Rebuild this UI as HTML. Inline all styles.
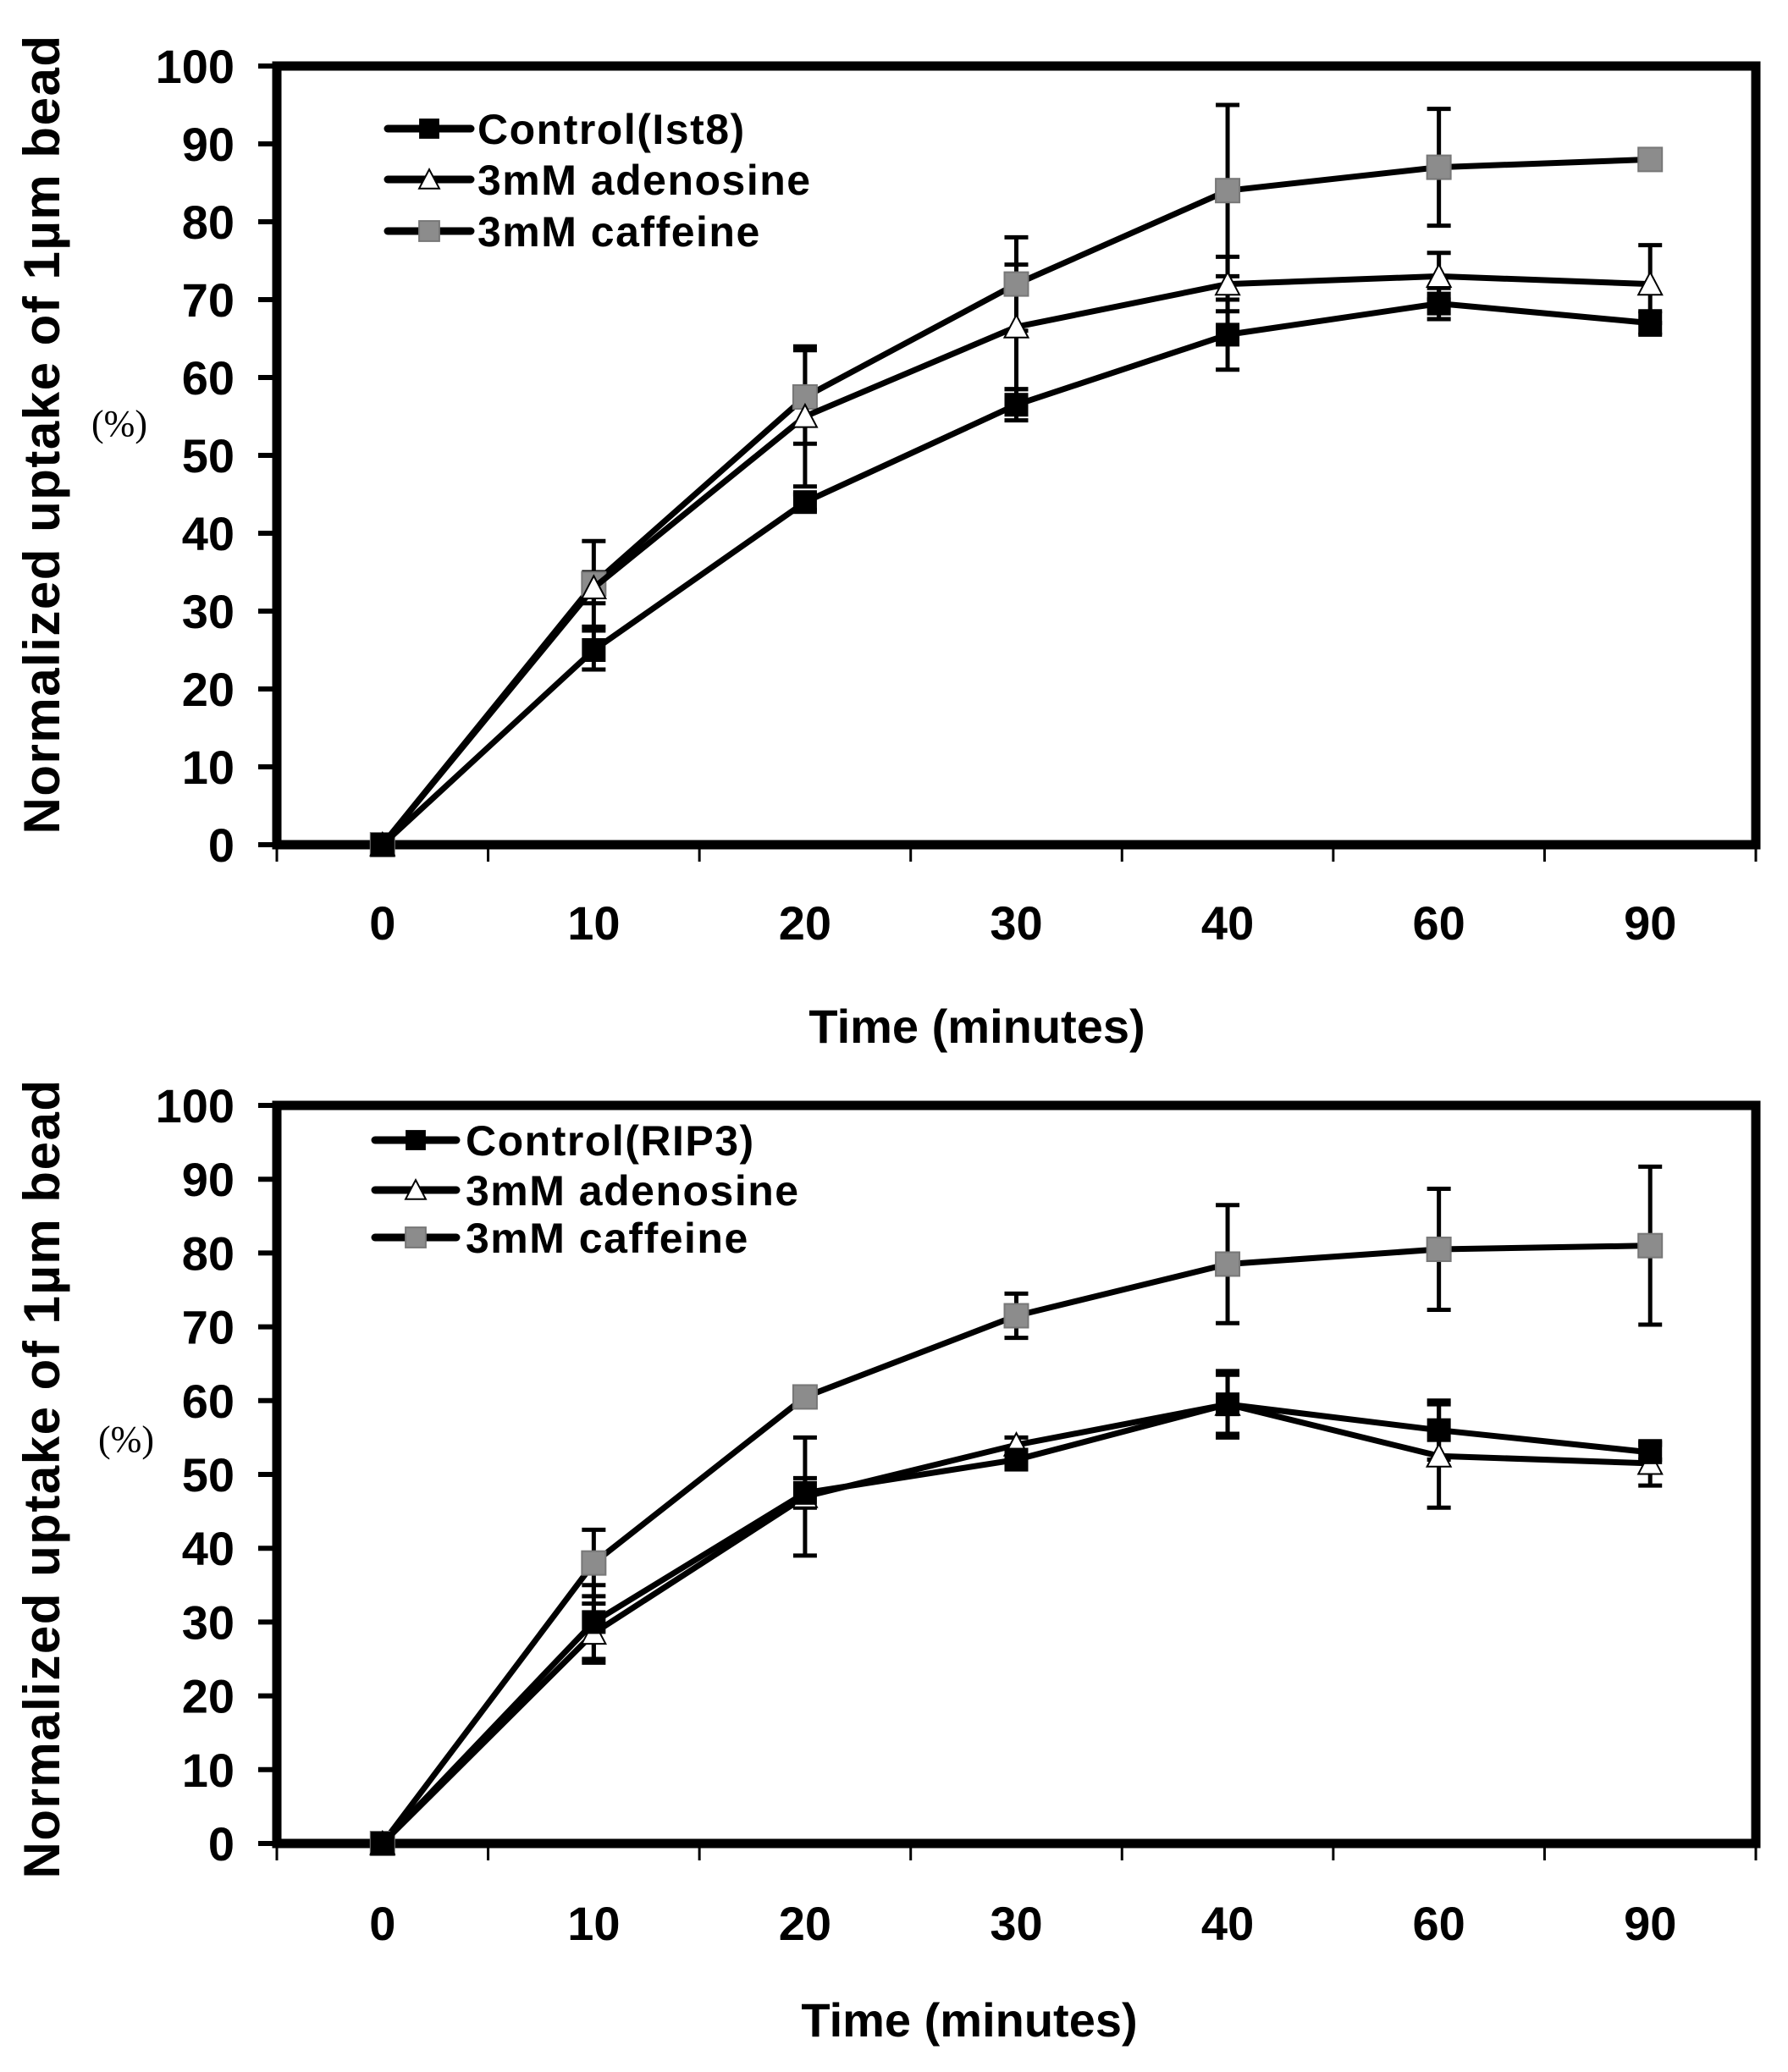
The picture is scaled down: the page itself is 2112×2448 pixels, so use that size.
<!DOCTYPE html>
<html><head><meta charset="utf-8"><style>
html,body{margin:0;padding:0;background:#fff;}
svg{display:block;}
text{font-family:"Liberation Sans",Arial,sans-serif;font-weight:bold;fill:#000;}
</style></head><body>
<svg id="chart" width="2112" height="2448" viewBox="0 0 2112 2448" xmlns="http://www.w3.org/2000/svg"></svg>
<script>
const categories = ["0","10","20","30","40","60","90"];
const yTicks = [0,10,20,30,40,50,60,70,80,90,100];
const seriesNames = ["control","adenosine","caffeine"];
const topLabels = ["Control(Ist8)","3mM adenosine","3mM caffeine"];
const botLabels = ["Control(RIP3)","3mM adenosine","3mM caffeine"];
const topControl = [0,25,44,56.5,65.5,69.5,67];
const topControlErr = [0,2.5,1,2,4.5,2,1.5];
const topAdenosine = [0,33,55,66.5,72,73,72];
const topAdenosineErr = [0,2,9,8,3.5,3,5];
const topCaffeine = [0,33.5,57.5,72,84,87,88];
const topCaffeineErr = [0,5.5,6,6,11,7.5,0];
const botControl = [0,30,47.5,52,59.5,56,53];
const botControlErr = [0,5,2,1,4,4,1];
const botAdenosine = [0,28.5,47,54,59.5,52.5,51.5];
const botAdenosineErr = [0,4,8,1,4.5,7,3];
const botCaffeine = [0,38,60.5,71.5,78.5,80.5,81];
const botCaffeineErr = [0,4.5,1,3,8,8.2,10.7];

const NS="http://www.w3.org/2000/svg";
const svg=document.getElementById('chart');
function mk(tag,attrs,parent){const e=document.createElementNS(NS,tag);for(const k in attrs)e.setAttribute(k,attrs[k]);(parent||svg).appendChild(e);return e;}

function drawPanel(p){
  const g=mk('g',{});
  
  
  const L=327,R=2074,T=p.top,B=p.bottom;
  const step=(R-L)/7;
  const xs=i=>L+step*(i+0.5);
  const ys=v=>B-(B-T)*v/100;
  yTicks.forEach(v=>{
    const t=mk('line',{x1:L-22,x2:L,y1:ys(v),y2:ys(v),stroke:'#000','stroke-width':6},g);
    
    
    const lb=mk('text',{x:277,y:ys(v)+20,'font-size':56,'text-anchor':'end'},g);
    lb.textContent=v;
    
    
  });
  for(let i=0;i<=7;i++){
    const t=mk('line',{x1:L+step*i,x2:L+step*i,y1:B,y2:B+20,stroke:'#000','stroke-width':3},g);
    
    
  }
  categories.forEach((c,i)=>{
    const lb=mk('text',{x:xs(i),y:p.xlabY,'font-size':56,'text-anchor':'middle'},g);
    lb.textContent=c;
    
    
  });
  const fr=mk('rect',{x:L,y:T,width:R-L,height:B-T,fill:'none',stroke:'#000','stroke-width':11},g);
  
  
  const xt=mk('text',{x:p.xtX,y:p.xtY,'font-size':56,'text-anchor':'middle'},g);
  xt.textContent='Time (minutes)';
  
  
  const yt=mk('text',{x:0,y:0,'font-size':60,'text-anchor':'middle','letter-spacing':'1.5',transform:`translate(70,${p.ytY}) rotate(-90)`},g);
  yt.textContent='Normalized uptake of 1µm bead';
  
  
  const pc=mk('text',{x:p.pcX,y:p.pcY,'font-size':44,'text-anchor':'middle'},g);
  pc.setAttribute('style','font-family:"Liberation Serif",serif;font-weight:normal');
  pc.textContent='(%)';
  
  
  const order=[2,1,0];
  order.forEach(s=>{
    const vals=p.data[s],errs=p.errs[s];
    vals.forEach((v,i)=>{
      if(!errs[i])return;
      const x=xs(i),y1=ys(v+errs[i]),y2=ys(v-errs[i]);
      const eb=mk('path',{d:`M${x},${y1}V${y2}M${x-14},${y1}H${x+14}M${x-14},${y2}H${x+14}`,stroke:'#000','stroke-width':5,fill:'none'},g);
      
      
    });
  });
  order.forEach(s=>{
    const vals=p.data[s];
    const pts=vals.map((v,i)=>xs(i)+','+ys(v)).join(' ');
    const ln=mk('polyline',{points:pts,fill:'none',stroke:'#000','stroke-width':7,'stroke-linejoin':'round'},g);
    
    
    vals.forEach((v,i)=>{ marker(g,s,xs(i),ys(v)); });
  });
  p.labels.forEach((lbl,s)=>{
    const y=p.legY[s];
    const ln=mk('line',{x1:p.legX1,x2:p.legX2,y1:y,y2:y,stroke:'#000','stroke-width':9,'stroke-linecap':'round'},g);
    
    
    marker(g,s,(p.legX1+p.legX2)/2,y,0.85);
    const t=mk('text',{x:p.legT,y:y+18,'font-size':50,'letter-spacing':'1.5'},g);
    t.textContent=lbl;
    
    
  });
}
function marker(g,s,x,y,sc){
  sc=sc||1;const h=14*sc;let m;
  if(s===0){m=mk('rect',{x:x-h,y:y-h,width:2*h,height:2*h,fill:'#000'},g);}
  else if(s===2){m=mk('rect',{x:x-h,y:y-h,width:2*h,height:2*h,fill:'#8c8c8c',stroke:'#777','stroke-width':2},g);}
  else {m=mk('path',{d:`M${x},${y-h}L${x+h},${y+h*0.9}L${x-h},${y+h*0.9}Z`,fill:'#fff',stroke:'#000','stroke-width':2},g);}
  
  
}
drawPanel({name:'top-chart',top:78,bottom:998,xlabY:1110,xtX:1154,xtY:1232,ytY:513,pcX:141,pcY:515,
  data:[topControl,topAdenosine,topCaffeine],errs:[topControlErr,topAdenosineErr,topCaffeineErr],
  labels:topLabels,legY:[152,212,273],legX1:458,legX2:556,legT:564});
drawPanel({name:'bottom-chart',top:1306,bottom:2178,xlabY:2292,xtX:1145,xtY:2406,ytY:1747,pcX:149,pcY:1715,
  data:[botControl,botAdenosine,botCaffeine],errs:[botControlErr,botAdenosineErr,botCaffeineErr],
  labels:botLabels,legY:[1347,1406,1462],legX1:443,legX2:539,legT:550});
</script>
</body></html>
